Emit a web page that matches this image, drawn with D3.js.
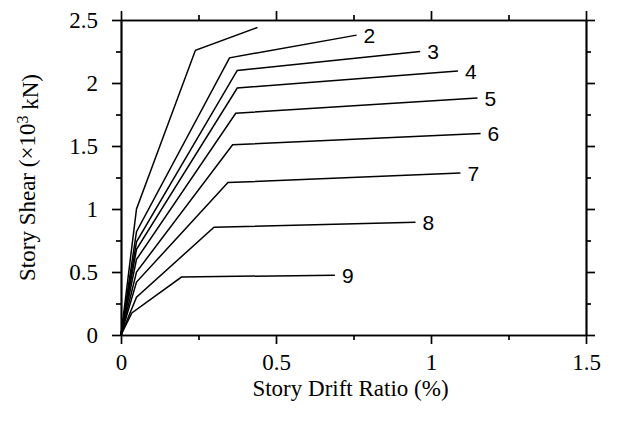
<!DOCTYPE html>
<html>
<head>
<meta charset="utf-8">
<script src="https://cdn.jsdelivr.net/npm/d3@7"></script>
<style>
  html, body { margin: 0; padding: 0; background: #fff; }
  svg { display: block; }
</style>
</head>
<body>
<script>
// Story shear vs. story drift ratio, one pushover curve per story.
const storyLabels = ["", "2", "3", "4", "5", "6", "7", "8", "9"];

// Drift ratio (%) at the curve vertices, per story
const driftRatio = [
  [0, 0.05, 0.24, 0.44],
  [0, 0.05, 0.35, 0.76],
  [0, 0.05, 0.375, 0.965],
  [0, 0.05, 0.375, 1.087],
  [0, 0.05, 0.37, 1.15],
  [0, 0.05, 0.36, 1.16],
  [0, 0.05, 0.345, 1.095],
  [0, 0.05, 0.3, 0.95],
  [0, 0.035, 0.195, 0.69]
];

// Story shear (x10^3 kN) at the same vertices
const storyShear = [
  [0, 1.0, 2.26, 2.44],
  [0, 0.82, 2.2, 2.38],
  [0, 0.74, 2.1, 2.25],
  [0, 0.68, 1.96, 2.095],
  [0, 0.6, 1.76, 1.88],
  [0, 0.5, 1.51, 1.60],
  [0, 0.42, 1.21, 1.285],
  [0, 0.3, 0.855, 0.895],
  [0, 0.175, 0.46, 0.475]
];

const xMajorTicks = [0, 0.5, 1, 1.5];
const xMinorTicks = [0.25, 0.75, 1.25];
const xTickLabels = ["0", "0.5", "1", "1.5"];
const yMajorTicks = [0, 0.5, 1, 1.5, 2, 2.5];
const yMinorTicks = [0.25, 0.75, 1.25, 1.75, 2.25];
const yTickLabels = ["0", "0.5", "1", "1.5", "2", "2.5"];

const W = 618, H = 425;
const plot = { left: 121, right: 586, top: 20, bottom: 335 };
const serif = "'Liberation Serif', 'Times New Roman', serif";
const sans = "'Liberation Sans', Arial, sans-serif";
const fontSize = 23;

const svg = d3.select("body").append("svg")
  .attr("width", W).attr("height", H);

const x = d3.scaleLinear().domain([0, 1.5]).range([plot.left, plot.right]);
const y = d3.scaleLinear().domain([0, 2.5]).range([plot.bottom, plot.top]);

function styleAxis(g) {
  g.selectAll("path.domain").attr("stroke", "#000").attr("stroke-width", 1.7);
  g.selectAll(".tick line").attr("stroke", "#000").attr("stroke-width", 1.7);
  g.selectAll(".tick text")
    .attr("font-family", serif).attr("font-size", fontSize).attr("fill", "#000");
}

// Bottom axis with labels
svg.append("g").attr("transform", `translate(0,${plot.bottom})`)
  .call(d3.axisBottom(x).tickValues(xMajorTicks).tickSize(9).tickSizeOuter(0)
    .tickPadding(10).tickFormat((d, i) => xTickLabels[i]))
  .call(styleAxis);
svg.append("g").attr("transform", `translate(0,${plot.bottom})`)
  .call(d3.axisBottom(x).tickValues(xMinorTicks).tickSize(5).tickSizeOuter(0).tickFormat(""))
  .call(styleAxis);

// Top axis (ticks only)
svg.append("g").attr("transform", `translate(0,${plot.top})`)
  .call(d3.axisTop(x).tickValues(xMajorTicks).tickSize(9).tickSizeOuter(0).tickFormat(""))
  .call(styleAxis);
svg.append("g").attr("transform", `translate(0,${plot.top})`)
  .call(d3.axisTop(x).tickValues(xMinorTicks).tickSize(5).tickSizeOuter(0).tickFormat(""))
  .call(styleAxis);

// Left axis with labels
svg.append("g").attr("transform", `translate(${plot.left},0)`)
  .call(d3.axisLeft(y).tickValues(yMajorTicks).tickSize(9).tickSizeOuter(0)
    .tickPadding(14).tickFormat((d, i) => yTickLabels[i]))
  .call(styleAxis);
svg.append("g").attr("transform", `translate(${plot.left},0)`)
  .call(d3.axisLeft(y).tickValues(yMinorTicks).tickSize(5).tickSizeOuter(0).tickFormat(""))
  .call(styleAxis);

// Right axis (ticks only)
svg.append("g").attr("transform", `translate(${plot.right},0)`)
  .call(d3.axisRight(y).tickValues(yMajorTicks).tickSize(9).tickSizeOuter(0).tickFormat(""))
  .call(styleAxis);
svg.append("g").attr("transform", `translate(${plot.right},0)`)
  .call(d3.axisRight(y).tickValues(yMinorTicks).tickSize(5).tickSizeOuter(0).tickFormat(""))
  .call(styleAxis);

// Curves
const line = d3.line().x(d => x(d[0])).y(d => y(d[1]));
const curves = driftRatio.map((xs, i) => xs.map((v, j) => [v, storyShear[i][j]]));

svg.append("g").selectAll("path").data(curves).join("path")
  .attr("d", line)
  .attr("fill", "none")
  .attr("stroke", "#000")
  .attr("stroke-width", 1.5)
  .attr("stroke-linejoin", "miter");

// Story numbers at curve ends
svg.append("g").selectAll("text")
  .data(curves.map((c, i) => ({ end: c[c.length - 1], label: storyLabels[i] }))
    .filter(d => d.label))
  .join("text")
  .attr("x", d => x(d.end[0]) + 7)
  .attr("y", d => y(d.end[1]))
  .attr("dy", "0.36em")
  .attr("font-family", sans)
  .attr("font-size", 21)
  .attr("fill", "#000")
  .text(d => d.label);

// Axis titles
svg.append("text")
  .attr("x", (plot.left + plot.right) / 2 - 3)
  .attr("y", 396)
  .attr("text-anchor", "middle")
  .attr("font-family", serif).attr("font-size", fontSize).attr("fill", "#000")
  .text("Story Drift Ratio (%)");

const yTitle = svg.append("text")
  .attr("transform", `translate(35,${(plot.top + plot.bottom) / 2}) rotate(-90)`)
  .attr("text-anchor", "middle")
  .attr("font-family", serif).attr("font-size", fontSize).attr("fill", "#000");
yTitle.append("tspan").text("Story Shear (\u00d710");
yTitle.append("tspan").attr("dy", "-0.45em").attr("font-size", 16).text("3");
yTitle.append("tspan").attr("dy", "0.45em").text(" kN)");
</script>
</body>
</html>
